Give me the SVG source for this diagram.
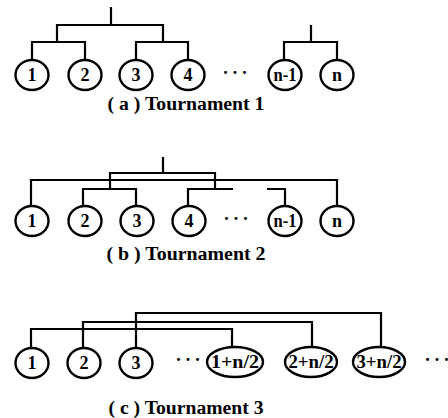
<svg xmlns="http://www.w3.org/2000/svg" width="448" height="418" viewBox="0 0 448 418">
<style>
.n ellipse{fill:#fff;stroke:#000;stroke-width:2.4}
text{font-family:'Liberation Serif','Times New Roman','DejaVu Serif',serif;font-weight:bold;fill:#000;text-anchor:middle}
.n text{font-size:18px}
.c{fill:none;stroke:#000;stroke-width:2.2;stroke-linecap:butt;stroke-linejoin:miter}
.t{font-size:18px}
.d{font-size:18px}
</style>
<rect width="448" height="418" fill="#fff"/>
<g id="connectors" class="c">
<path d="M111 7V25M57 42V25H163V42M32 60V42H85V60M136 60V42H188V60"/>
<path d="M311 25V42M284 60V42H337V60"/>
<path d="M163 157V173M110 189V173H215V189"/>
<path d="M31 206V180H337V206"/>
<path d="M83 206V189H136V206"/>
<path d="M188 206V189H233"/>
<path d="M267 189H285V206"/>
<path d="M31 348V329H232V347"/>
<path d="M83 348V322H312V347"/>
<path d="M136 348V313H381V347"/>
</g>
<g id="a1" class="n"><ellipse cx="32" cy="75" rx="16.5" ry="15"/><text x="32" y="81">1</text></g>
<g id="a2" class="n"><ellipse cx="85" cy="75" rx="16.5" ry="15"/><text x="85" y="81">2</text></g>
<g id="a3" class="n"><ellipse cx="136" cy="75" rx="16.5" ry="15"/><text x="136" y="81">3</text></g>
<g id="a4" class="n"><ellipse cx="188" cy="75" rx="16.5" ry="15"/><text x="188" y="81">4</text></g>
<text class="d" x="235" y="79" textLength="25" lengthAdjust="spacing">···</text>
<g id="an1" class="n"><ellipse cx="285" cy="75" rx="16.5" ry="15"/><text x="285" y="81" textLength="23" lengthAdjust="spacingAndGlyphs">n-1</text></g>
<g id="an" class="n"><ellipse cx="337" cy="75" rx="16.5" ry="15"/><text x="337" y="81">n</text></g>
<text class="t" x="186" y="110" textLength="157" lengthAdjust="spacingAndGlyphs">( a ) Tournament 1</text>

<g id="b1" class="n"><ellipse cx="32" cy="221" rx="16.5" ry="15"/><text x="32" y="227">1</text></g>
<g id="b2" class="n"><ellipse cx="85" cy="221" rx="16.5" ry="15"/><text x="85" y="227">2</text></g>
<g id="b3" class="n"><ellipse cx="137" cy="221" rx="16.5" ry="15"/><text x="137" y="227">3</text></g>
<g id="b4" class="n"><ellipse cx="189" cy="221" rx="16.5" ry="15"/><text x="189" y="227">4</text></g>
<text class="d" x="236" y="225" textLength="25" lengthAdjust="spacing">···</text>
<g id="bn1" class="n"><ellipse cx="285" cy="221" rx="16.5" ry="15"/><text x="285" y="227" textLength="23" lengthAdjust="spacingAndGlyphs">n-1</text></g>
<g id="bn" class="n"><ellipse cx="337" cy="221" rx="16.5" ry="15"/><text x="337" y="227">n</text></g>
<text class="t" x="186" y="260" textLength="159" lengthAdjust="spacingAndGlyphs">( b ) Tournament 2</text>

<g id="c1" class="n"><ellipse cx="32" cy="363" rx="16.5" ry="15"/><text x="32" y="369">1</text></g>
<g id="c2" class="n"><ellipse cx="84" cy="363" rx="16.5" ry="15"/><text x="84" y="369">2</text></g>
<g id="c3" class="n"><ellipse cx="136" cy="363" rx="16.5" ry="15"/><text x="136" y="369">3</text></g>
<text class="d" x="188" y="366" textLength="25" lengthAdjust="spacing">···</text>
<g id="c4" class="n"><ellipse cx="235" cy="362" rx="28" ry="15"/><text x="235" y="368" textLength="48" lengthAdjust="spacingAndGlyphs">1+n/2</text></g>
<g id="c5" class="n"><ellipse cx="311" cy="362" rx="26" ry="15"/><text x="311" y="368" textLength="45" lengthAdjust="spacingAndGlyphs">2+n/2</text></g>
<g id="c6" class="n"><ellipse cx="379" cy="362" rx="26" ry="15"/><text x="379" y="368" textLength="45" lengthAdjust="spacingAndGlyphs">3+n/2</text></g>
<text class="d" x="437" y="366" textLength="25" lengthAdjust="spacing">···</text>
<text class="t" x="186" y="414" textLength="155" lengthAdjust="spacingAndGlyphs">( c ) Tournament 3</text>
</svg>
